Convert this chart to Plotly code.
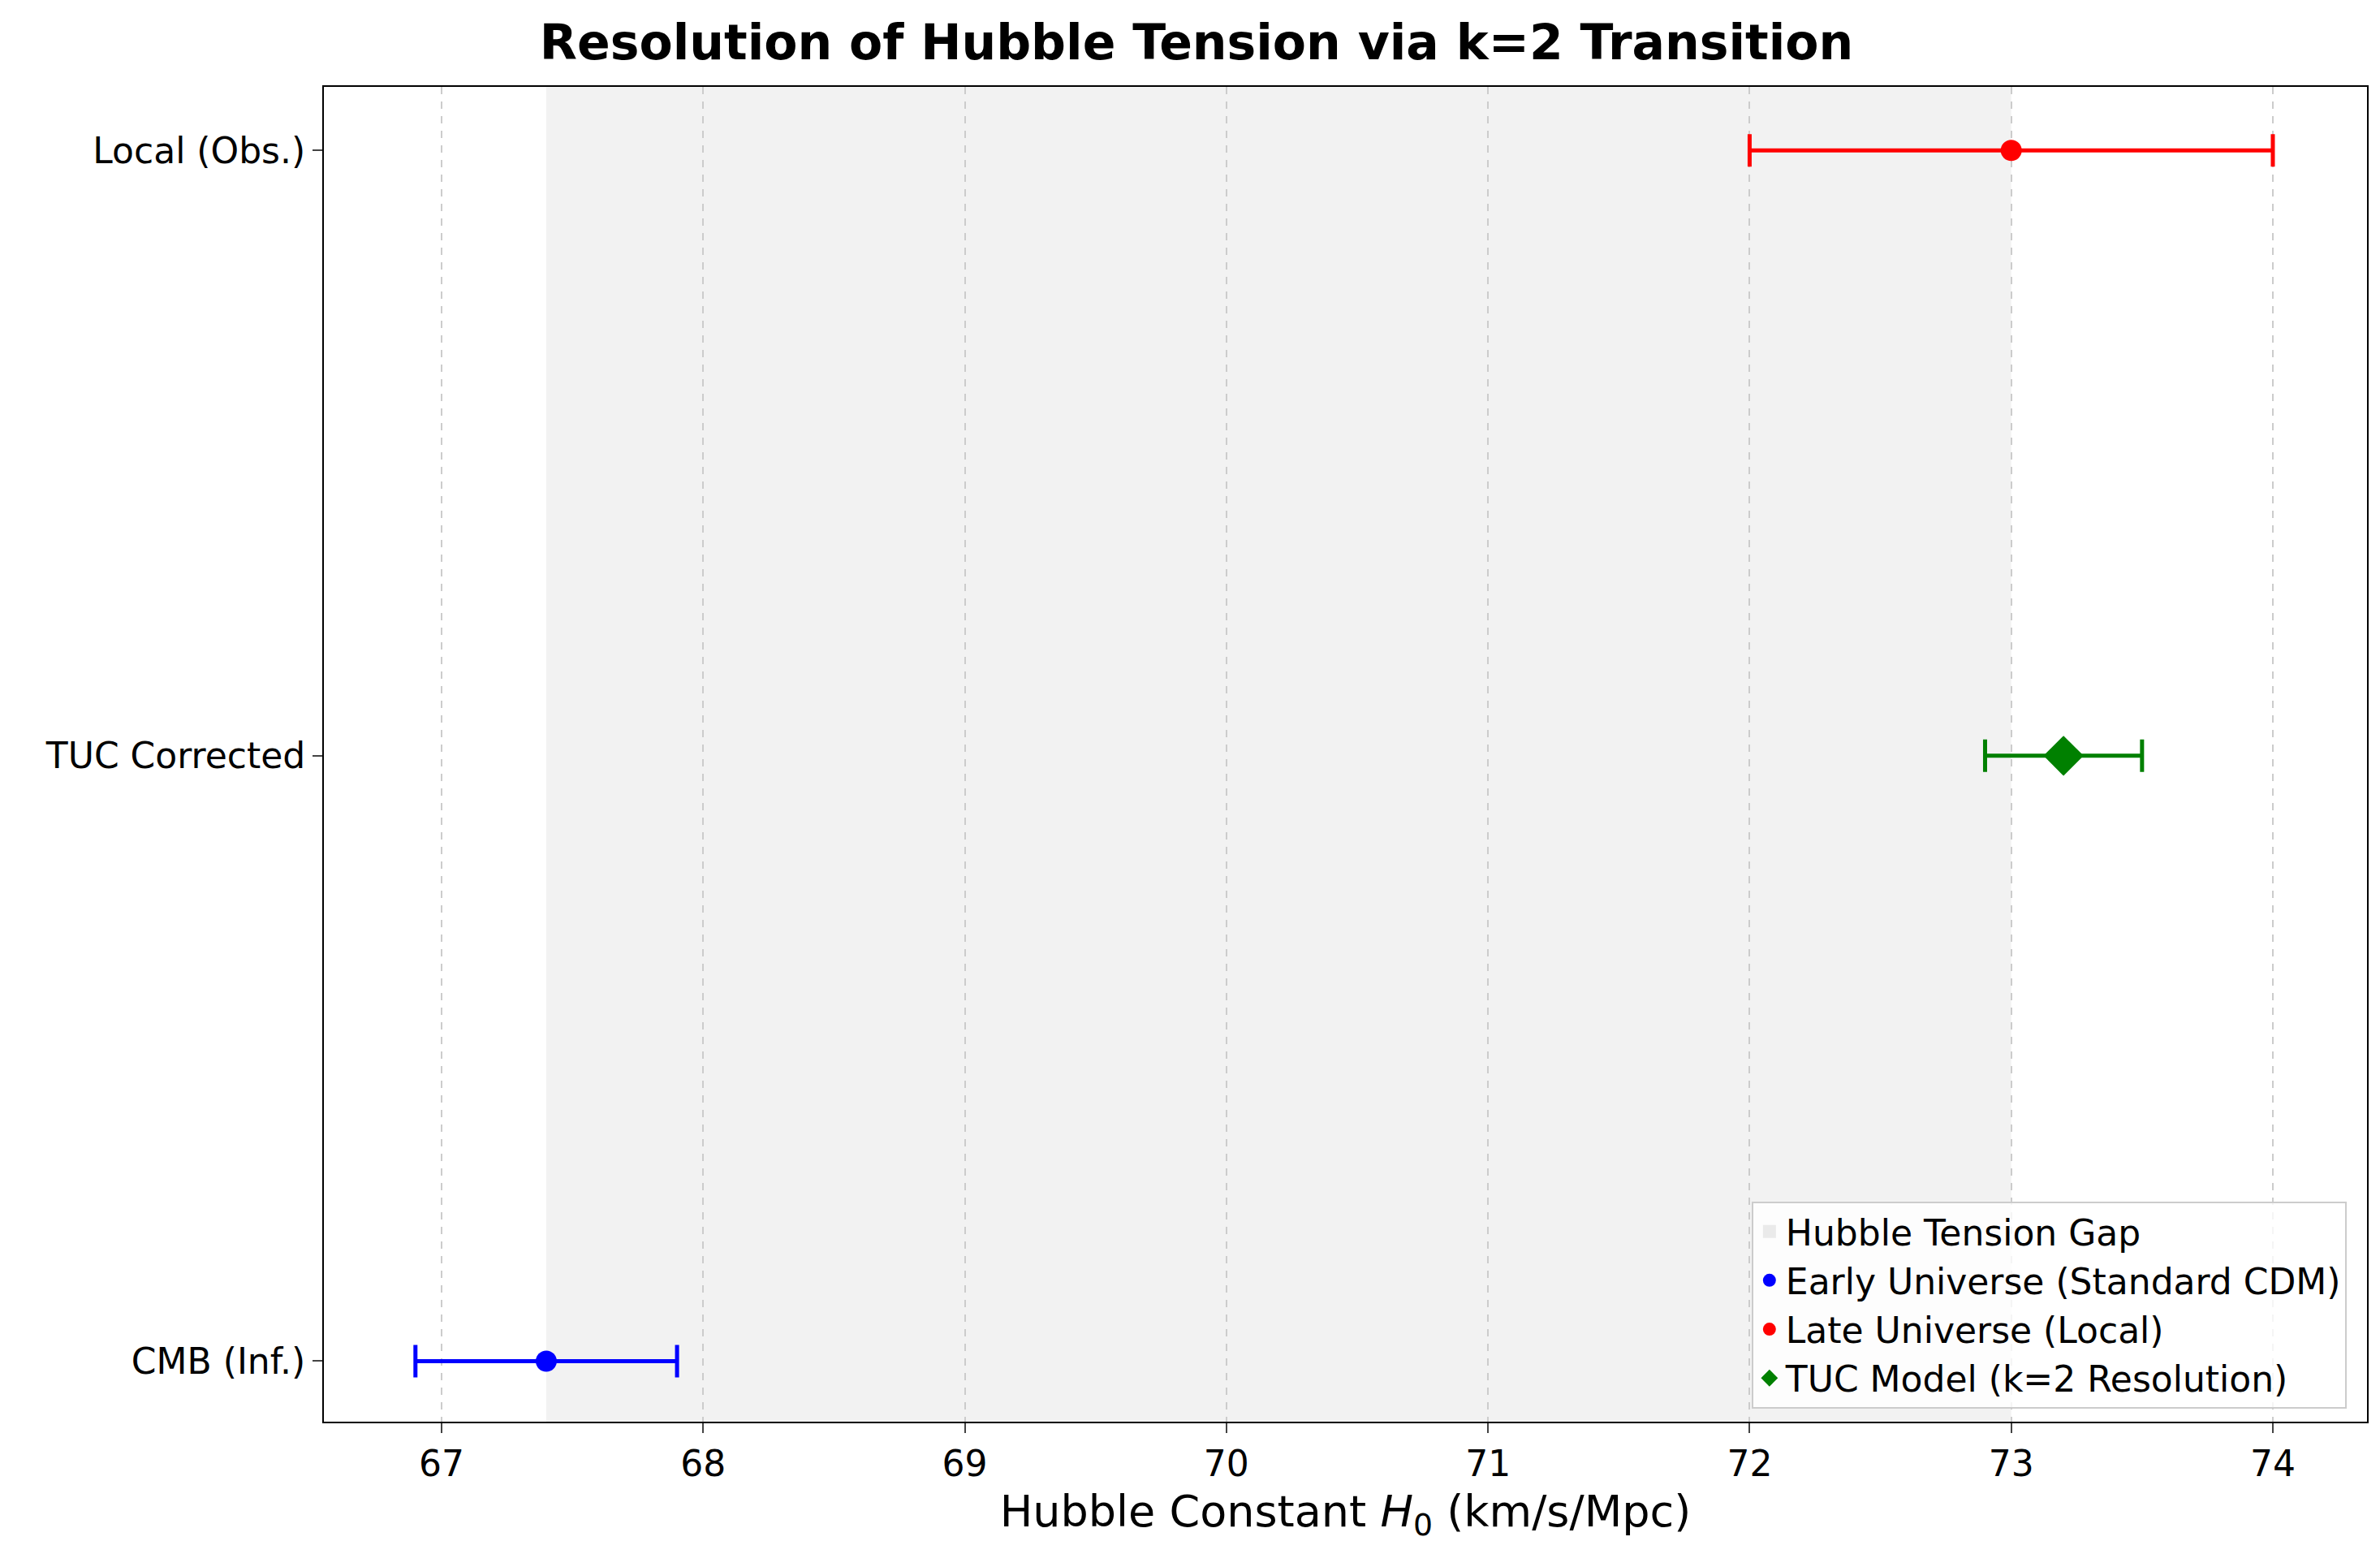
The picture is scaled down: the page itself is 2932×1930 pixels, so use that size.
import plotly.graph_objects as go

categories = ["CMB (Inf.)", "TUC Corrected", "Local (Obs.)"]
series_names = ["Early Universe (Standard CDM)", "Late Universe (Local)", "TUC Model (k=2 Resolution)"]
h0_values = [67.4, 73.0, 73.2]
h0_errors = [0.5, 1.0, 0.3]
y_index = [0, 2, 1]
colors = ["blue", "red", "green"]
symbols = ["circle", "circle", "diamond"]
sizes = [26, 26, 38]
gap_low, gap_high = 67.4, 73.0
xticks = [67, 68, 69, 70, 71, 72, 73, 74]

F = "DejaVu Sans"
fig = go.Figure()

# shaded tension gap
fig.add_vrect(x0=gap_low, x1=gap_high, fillcolor="rgba(128,128,128,0.1)", line_width=0, layer="below")
fig.add_trace(go.Scatter(x=[None], y=[None], mode="markers", name="Hubble Tension Gap",
                         marker=dict(symbol="square", size=34, color="rgba(128,128,128,0.15)")))

for name, v, e, yi, c, s, sz in zip(series_names, h0_values, h0_errors, y_index, colors, symbols, sizes):
    fig.add_trace(go.Scatter(
        x=[v], y=[yi], mode="markers", name=name,
        marker=dict(color=c, symbol=s, size=sz),
        error_x=dict(type="data", array=[e], color=c, thickness=5, width=20),
    ))

fig.update_layout(
    width=2932, height=1930,
    paper_bgcolor="white", plot_bgcolor="white",
    margin=dict(l=391, r=24, t=99, b=187),
    font=dict(family=F, size=44, color="black"),
    title=dict(text="<b>Resolution of Hubble Tension via k=2 Transition</b>", x=0.5, xanchor="center",
               y=0.988, yanchor="top", font=dict(size=60)),
    legend=dict(x=0.99, y=0.01, xanchor="right", yanchor="bottom", bgcolor="rgba(255,255,255,0.8)",
                bordercolor="#cccccc", borderwidth=2, font=dict(size=44), tracegroupgap=10),
)
fig.update_xaxes(range=[66.55, 74.36], tickvals=xticks, showgrid=True, gridcolor="#cccccc",
                 griddash="dash", gridwidth=2, zeroline=False, showline=True, linecolor="black",
                 linewidth=2, mirror=True, ticks="outside", ticklen=12, tickwidth=2,
                 title=dict(text="Hubble Constant <i>H</i><sub>0</sub> (km/s/Mpc)", font=dict(size=54)))
fig.update_yaxes(range=[-0.1, 2.105], tickvals=[0, 1, 2], ticktext=categories, showgrid=False,
                 zeroline=False, showline=True, linecolor="black", linewidth=2, mirror=True,
                 ticks="outside", ticklen=12, tickwidth=2)

fig.write_html("out.html")
